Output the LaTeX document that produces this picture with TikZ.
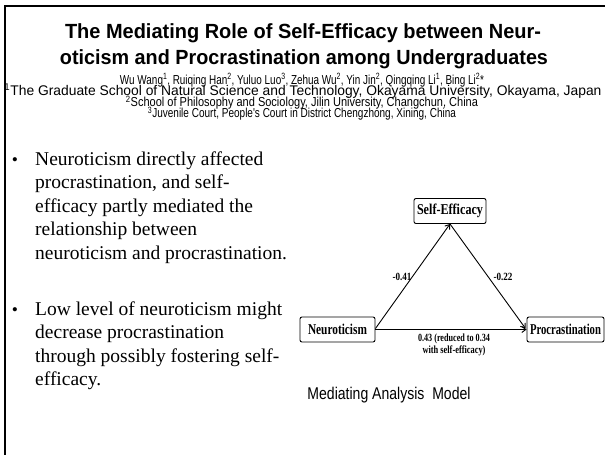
\documentclass[tikz,border=0pt]{standalone}
\usepackage{fontspec}
\usepackage{graphicx}
\setmainfont{Liberation Serif}
\newfontfamily\arial{Liberation Sans}
\usetikzlibrary{arrows.meta,calc}
\newcommand{\fitw}[2]{\resizebox{#1}{\height}{#2}}
\tikzset{
  hd/.style={inner sep=0pt, anchor=base},
  bodyline/.style={inner sep=0pt, anchor=base west, font=\fontsize{19.5}{22}\selectfont},
  bul/.style={inner sep=0pt, anchor=base, font=\fontsize{17.5}{20}\selectfont},
  varbox/.style={draw, line width=0.9pt, rounded corners=2pt, inner sep=0pt, minimum height=25pt, font=\bfseries\fontsize{15}{16}\selectfont},
  lab/.style={inner sep=0pt, font=\bfseries\fontsize{11}{12}\selectfont},
  arr/.style={-{Straight Barb[length=4pt,width=6pt]}, line width=0.9pt},
  affil/.style={hd, font=\arial\fontsize{13}{14}\selectfont},
}
\begin{document}
\begin{tikzpicture}[x=1pt,y=-1pt]
\fill[white] (0,0) rectangle (605,455);
\useasboundingbox (0,0) rectangle (605,455);
% frame
\draw[line width=2.2pt] (4.5,6) -- (605,6);
\draw[line width=1.6pt] (5,5) -- (5,455);
% title
\node[hd, font=\arial\bfseries\fontsize{20.5}{22}\selectfont] (t1) at (303,38) {\fitw{476pt}{The Mediating Role of Self-Efficacy between Neur-}};
\node[hd, font=\arial\bfseries\fontsize{20.5}{22}\selectfont] (t2) at (304,64) {\fitw{488pt}{oticism and Procrastination among Undergraduates}};
\node[affil] (au) at (302,84) {\fitw{364pt}{Wu Wang\textsuperscript{1}, Ruiqing Han\textsuperscript{2}, Yuluo Luo\textsuperscript{3}, Zehua Wu\textsuperscript{2}, Yin Jin\textsuperscript{2}, Qingqing Li\textsuperscript{1}, Bing Li\textsuperscript{2}*}};
\node[affil, font=\arial\fontsize{14}{14}\selectfont] (af1) at (303,95.5) {\fitw{597pt}{\textsuperscript{1}The Graduate School of Natural Science and Technology, Okayama University, Okayama, Japan}};
\node[affil] (af2) at (302,106.5) {\fitw{352pt}{\textsuperscript{2}School of Philosophy and Sociology, Jilin University, Changchun, China}};
\node[affil] (af3) at (302,117.5) {\fitw{308pt}{\textsuperscript{3}Juvenile Court, People's Court in District Chengzhong, Xining, China}};
% bullets
\node[bul] (b1) at (15,165) {•};
\node[bodyline] (p1a) at (35,165) {Neuroticism directly affected};
\node[bodyline] (p1b) at (35,188.5) {procrastination, and self-};
\node[bodyline] (p1c) at (35,212) {efficacy partly mediated the};
\node[bodyline] (p1d) at (35,235.5) {relationship between};
\node[bodyline] (p1e) at (35,259) {neuroticism and procrastination.};
\node[bul] (b2) at (15,315) {•};
\node[bodyline] (p2a) at (35,315) {Low level of neuroticism might};
\node[bodyline] (p2b) at (35,338.5) {decrease procrastination};
\node[bodyline] (p2c) at (35,362) {through possibly fostering self-};
\node[bodyline] (p2d) at (35,385.5) {efficacy.};
% diagram
\node[varbox, minimum width=72pt] (se) at (450,211) {\fitw{66pt}{Self-Efficacy}};
\node[varbox, minimum width=75pt] (neu) at (337.5,329.5) {\fitw{59pt}{Neuroticism}};
\node[varbox, minimum width=77pt] (pro) at (565.5,329.5) {\fitw{71pt}{Procrastination}};
\draw[arr] ($(neu.east)+(0,-1)$) -- (se.south);
\draw[arr] (se.south) -- ($(pro.west)+(-1,-1)$);
\draw[arr] (neu.east) -- (pro.west);
\node[lab] (l1) at (402,277) {\fitw{19pt}{-0.41}};
\node[lab] (l2) at (503,277) {\fitw{19pt}{-0.22}};
\node[lab] (l3) at (454,338.5) {\fitw{72pt}{0.43 (reduced to 0.34}};
\node[lab] (l4) at (454,350.5) {\fitw{63pt}{with self-efficacy)}};
\node[hd, font=\arial\fontsize{17}{18}\selectfont] (cap) at (389,399) {\fitw{163pt}{Mediating Analysis\ \ Model}};
\end{tikzpicture}
\end{document}
